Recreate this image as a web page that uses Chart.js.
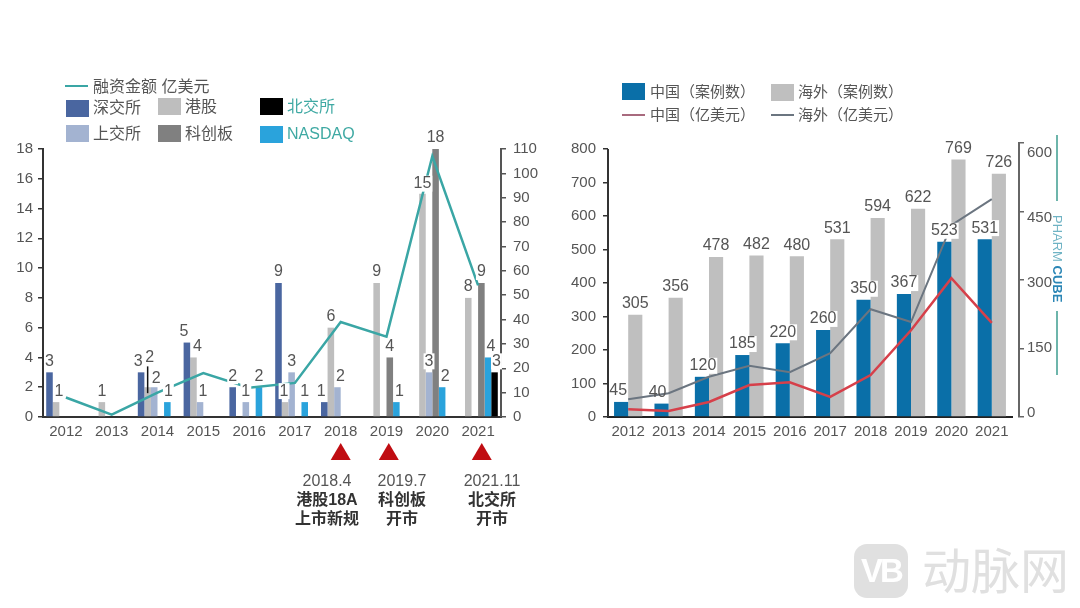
<!DOCTYPE html>
<html lang="zh-CN">
  <head>
    <meta charset="UTF-8" />
    <title>融资金额</title>
    <script src="https://cdn.jsdelivr.net/npm/chart.js"></script>
    <style>
      html, body { margin: 0; background: #fff; }
      body { position: relative; width: 1080px; height: 608px; overflow: hidden;
        font-family: "Liberation Sans", "Noto Sans CJK SC", sans-serif; color: #555; filter: blur(0.5px); }
      canvas { position: absolute; top: 0; }
      #left-chart { left: 0; }
      #right-chart { left: 540px; }
      .t { position: absolute; font-size: 15px; line-height: 18px; white-space: nowrap; }
      .big { font-size: 16px; }
      .sw { position: absolute; width: 23px; height: 17px; }
      .ln { position: absolute; width: 23px; height: 2px; }
      .note { position: absolute; width: 100px; text-align: center; font-size: 16px; line-height: 19px; color: #555; }
      .note b { color: #333; display: block; }
      .teal { color: #3fa9a3; }
      #brand { position: absolute; left: 1048px; top: 215px; writing-mode: vertical-rl; font-size: 13px; line-height: 18px; color: #6fb3c4; white-space: nowrap; }
      #brand b { color: #2b86b5; }
      .rule { position: absolute; left: 1056px; width: 1.5px; background: #6db5ab; }
      #wm-icon { position: absolute; left: 854px; top: 544px; width: 54px; height: 54px; border-radius: 13px; background: #e0e0e0;
        color: #fff; font-size: 33px; font-weight: bold; line-height: 54px; text-align: center; letter-spacing: -3px; }
      #wm-text { position: absolute; left: 922px; top: 536px; font-size: 49px; line-height: 64px; color: #e0e0e0; font-family: "Noto Sans CJK SC"; }
    </style>
  </head>
  <body>
    <canvas id="left-chart" width="540" height="608"></canvas>
    <canvas id="right-chart" width="540" height="608"></canvas>

    <!-- left legend -->
    <div class="ln" style="left:65px;top:85px;background:#3aa6a5"></div>
    <div class="t big" style="left:93px;top:78px">融资金额 亿美元</div>
    <div class="sw" style="left:66px;top:100px;background:#4a66a0"></div>
    <div class="t big" style="left:93px;top:99px">深交所</div>
    <div class="sw" style="left:158px;top:98px;background:#bebebe"></div>
    <div class="t big" style="left:185px;top:98px">港股</div>
    <div class="sw" style="left:260px;top:98px;background:#000"></div>
    <div class="t big teal" style="left:287px;top:98px">北交所</div>
    <div class="sw" style="left:66px;top:125px;background:#a3b3d1"></div>
    <div class="t big" style="left:93px;top:125px">上交所</div>
    <div class="sw" style="left:158px;top:125px;background:#808080"></div>
    <div class="t big" style="left:185px;top:125px">科创板</div>
    <div class="sw" style="left:260px;top:126px;background:#2aa3dc"></div>
    <div class="t big teal" style="left:287px;top:125px">NASDAQ</div>

    <!-- right legend -->
    <div class="sw" style="left:622px;top:83px;background:#0a6fa8"></div>
    <div class="t" style="left:650px;top:83px">中国（案例数）</div>
    <div class="sw" style="left:771px;top:84px;background:#bfbfbf"></div>
    <div class="t" style="left:798px;top:83px">海外（案例数）</div>
    <div class="ln" style="left:622px;top:114px;background:#a86a7e"></div>
    <div class="t" style="left:650px;top:106px">中国（亿美元）</div>
    <div class="ln" style="left:771px;top:114px;background:#6b7580"></div>
    <div class="t" style="left:798px;top:106px">海外（亿美元）</div>

    <!-- event notes under the left chart -->
    <div class="note" style="left:277px;top:471px">2018.4<b>港股18A</b><b>上市新规</b></div>
    <div class="note" style="left:352px;top:471px">2019.7<b>科创板</b><b>开市</b></div>
    <div class="note" style="left:442px;top:471px">2021.11<b>北交所</b><b>开市</b></div>

    <!-- brand strip and watermark -->
    <div class="rule" style="top:135px;height:66px"></div>
    <div id="brand">PHARM <b>CUBE</b></div>
    <div class="rule" style="top:311px;height:64px"></div>
    <div id="wm-icon">VB</div>
    <div id="wm-text">动脉网</div>

    <script>
      const FONT = "Liberation Sans";
      const TEXT = "#555";

      //left chart data
      const years = ["2012", "2013", "2014", "2015", "2016", "2017", "2018", "2019", "2020", "2021"];
      const shenzhen = [3, null, 3, 5, 2, 9, 1, null, null, null];
      const hongKong = [1, 1, 2, 4, null, 1, 6, 9, 15, 8];
      const shanghai = [null, null, 2, 1, 1, 3, 2, null, 3, null];
      const star = [null, null, null, null, null, null, null, 4, 18, 9];
      const nasdaq = [null, null, 1, null, 2, 1, null, 1, 2, 4];
      const beijing = [null, null, null, null, null, null, null, null, null, 3];
      const funding = [8, 1, 10, 18, 12, 14, 39, 33, 107, 54];

      //right chart data
      const chinaCases = [45, 40, 120, 185, 220, 260, 350, 367, 523, 531];
      const overseasCases = [305, 356, 478, 482, 480, 531, 594, 622, 769, 726];
      const chinaUsd = [17, 13, 33, 70, 76, 44, 92, 190, 304, 206];
      const overseasUsd = [39, 52, 88, 112, 98, 140, 236, 208, 420, 477];

      //event markers, as a position on the year axis
      const eventMarks = [6, 7.05, 9.08];

      //label nudges, "dataset:year": [dx, dy]
      const leftNudges = {
        "1:0": [3, 0], "0:2": [-3, 0], "1:2": [2, -19], "2:2": [2, 2], "4:2": [1, 0],
        "0:3": [-3, 0], "1:3": [4, 0], "2:3": [3, 0], "1:5": [-1, 0], "0:6": [-3, 0], "2:6": [3, 0],
        "4:7": [3, 0], "4:8": [3, 0], "4:9": [3, 0], "5:9": [2, 0], "1:8": [0, 1],
      };
      const rightNudges = { "0:0": [-3, 0], "0:1": [-4, 0], "0:2": [1, 0] };

      //numbers over the bars, with a white patch that hides the line behind them
      function barLabels(nudges, plain) {
        return {
          id: "barLabels",
          afterDatasetsDraw(chart) {
            const ctx = chart.ctx;
            ctx.save();
            ctx.font = "16px '" + FONT + "'";
            ctx.textAlign = "center";
            ctx.textBaseline = "middle";
            chart.data.datasets.forEach((ds, d) => {
              if (ds.type === "line") return;
              chart.getDatasetMeta(d).data.forEach((bar, i) => {
                if (ds.data[i] === null) return;
                const key = d + ":" + i;
                const n = nudges[key] || [0, 0];
                const x = bar.x + n[0];
                const y = bar.y - 11 + n[1];
                const w = ctx.measureText(ds.data[i]).width + 2;
                if (!plain.includes(key)) {
                  ctx.fillStyle = "#fff";
                  ctx.fillRect(x - w / 2, y - 8, w, 16);
                }
                ctx.fillStyle = TEXT;
                ctx.fillText(ds.data[i], x, y);
              });
            });
            ctx.restore();
          },
        };
      }

      //leader from the raised 港股 2014 label, and the red event triangles
      const leftExtras = {
        id: "leftExtras",
        afterDraw(chart) {
          const { x, y } = chart.scales;
          const ctx = chart.ctx;
          ctx.save();
          ctx.strokeStyle = "#111";
          ctx.lineWidth = 1.5;
          ctx.beginPath();
          ctx.moveTo(chart.getDatasetMeta(1).data[2].x, y.getPixelForValue(3.4));
          ctx.lineTo(chart.getDatasetMeta(1).data[2].x, y.getPixelForValue(1.6));
          ctx.stroke();
          ctx.fillStyle = "#c00d12";
          eventMarks.forEach((m) => {
            const px = x.getPixelForValue(m);
            ctx.beginPath();
            ctx.moveTo(px, 443);
            ctx.lineTo(px + 10, 460);
            ctx.lineTo(px - 10, 460);
            ctx.closePath();
            ctx.fill();
          });
          ctx.restore();
        },
      };

      //right chart: the USD axis stands a little off the plot, its labels drift
      //from the ticks in the source, and the left line stops at 800
      const rightExtras = {
        id: "rightExtras",
        afterLayout(chart) {
          chart.scales.y1.left += 7;
          chart.scales.y1.right += 7;
        },
        afterDraw(chart) {
          const { x, y, y1 } = chart.scales;
          const ctx = chart.ctx;
          ctx.save();
          ctx.strokeStyle = "#333";
          ctx.lineWidth = 2;
          ctx.beginPath();
          ctx.moveTo(x.left, y.getPixelForValue(800));
          ctx.lineTo(x.left, y.getPixelForValue(0));
          ctx.stroke();
          ctx.font = "15px '" + FONT + "'";
          ctx.fillStyle = TEXT;
          ctx.textBaseline = "middle";
          const zero = y1.getPixelForValue(0);
          y1.ticks.forEach((t) => {
            const py = zero - 4 + (y1.getPixelForValue(t.value) - zero) * 0.95;
            ctx.fillText(t.value, y1.left + 8, py);
          });
          ctx.restore();
        },
      };

      const tickFont = { family: FONT, size: 15 };

      function barSet(label, data, color, pct) {
        return { type: "bar", label, data, backgroundColor: color, order: 2, barPercentage: 1, categoryPercentage: pct };
      }
      function lineSet(label, data, color, width, axis) {
        return { type: "line", label, data, borderColor: color, borderWidth: width, pointRadius: 0, yAxisID: axis, order: 1, spanGaps: true };
      }
      function xAxis(color) {
        return {
          grid: { display: false, drawTicks: false },
          border: { color, width: 2 },
          ticks: { color: TEXT, font: tickFont, autoSkip: false, maxRotation: 0, padding: 6 },
          afterFit: (s) => { s.height = 30; },
        };
      }
      function yAxis(position, max, stepSize, width, borderColor, padding) {
        return {
          position, min: 0, max,
          grid: { drawOnChartArea: false, tickLength: 5, color: borderColor, lineWidth: 1.5 },
          border: { color: borderColor, width: 2 },
          ticks: { stepSize, color: TEXT, font: tickFont, padding, includeBounds: false },
          afterFit: (s) => { s.width = width; },
        };
      }

      new Chart(document.getElementById("left-chart"), {
        data: {
          labels: years,
          datasets: [
            barSet("深交所", shenzhen, "#4a66a0", 0.86),
            barSet("港股", hongKong, "#bebebe", 0.86),
            barSet("上交所", shanghai, "#a3b3d1", 0.86),
            barSet("科创板", star, "#808080", 0.86),
            barSet("NASDAQ", nasdaq, "#2aa3dc", 0.86),
            barSet("北交所", beijing, "#000", 0.86),
            lineSet("融资金额 亿美元", funding, "#3aa6a5", 2.5, "y1"),
          ],
        },
        options: {
          responsive: false,
          animation: false,
          layout: { padding: { top: 149, bottom: 161 } },
          plugins: { legend: { display: false }, tooltip: { enabled: false } },
          scales: {
            x: xAxis("#333"),
            y: yAxis("left", 18, 2, 43, "#333", 5),
            y1: yAxis("right", 110, 10, 39, "#555", 7),
          },
        },
        plugins: [barLabels(leftNudges, []), leftExtras],
      });

      const rightY = yAxis("left", 818, 100, 68, "#333", 7);
      rightY.border.display = false;
      const rightY1 = yAxis("right", 600, 150, 68, "#666", 3);
      rightY1.ticks.display = false;

      new Chart(document.getElementById("right-chart"), {
        data: {
          labels: years,
          datasets: [
            barSet("中国（案例数）", chinaCases, "#0a6fa8", 0.7),
            barSet("海外（案例数）", overseasCases, "#bfbfbf", 0.7),
            lineSet("中国（亿美元）", chinaUsd, "#d6404a", 2.5, "y1"),
            lineSet("海外（亿美元）", overseasUsd, "#6b7580", 2, "y1"),
          ],
        },
        options: {
          responsive: false,
          animation: false,
          layout: { padding: { top: 143, bottom: 161 } },
          plugins: { legend: { display: false }, tooltip: { enabled: false } },
          scales: { x: xAxis("#222"), y: rightY, y1: rightY1 },
        },
        plugins: [barLabels(rightNudges, ["0:0", "0:1"]), rightExtras],
      });
    </script>
  </body>
</html>
